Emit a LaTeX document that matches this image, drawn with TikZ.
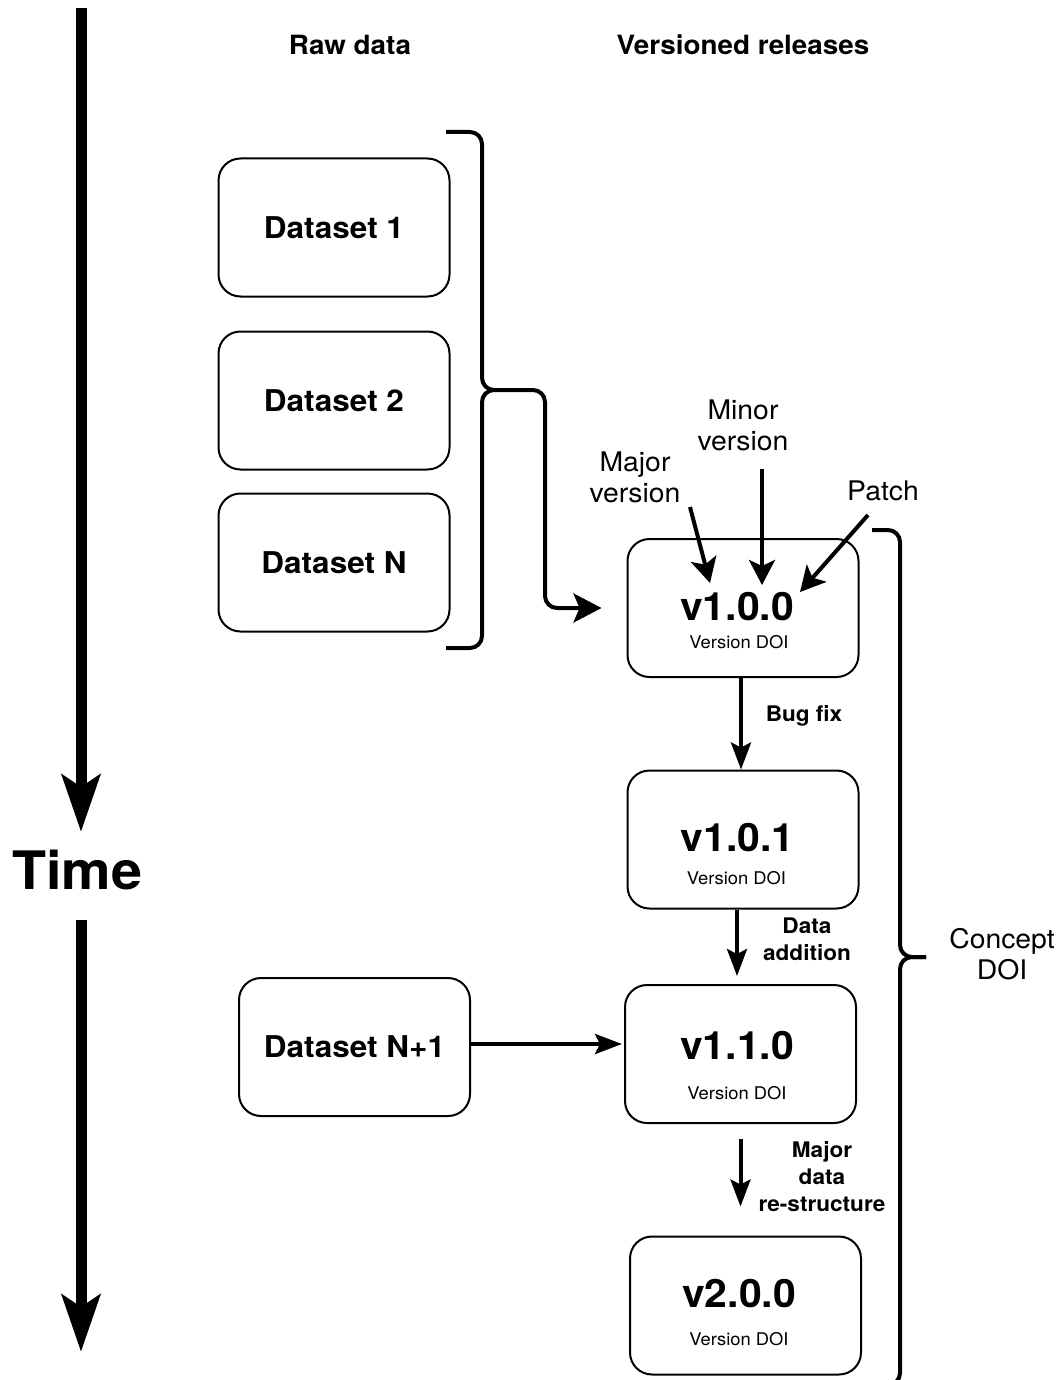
\documentclass[tikz,border=0pt]{standalone}
\usepackage{fontspec}
\setmainfont{TeX Gyre Heros}[FakeStretch=1.05]
\usetikzlibrary{arrows.meta}

\begin{document}
\begin{tikzpicture}[x=1pt,y=-1pt,
    caja/.style={draw,line width=2pt,rounded corners=22pt,minimum width=231pt,minimum height=138pt,inner sep=0pt},
    datos/.style={caja,font=\fontsize{30}{36}\selectfont\bfseries},
    titulo/.style={font=\fontsize{39}{47}\selectfont\bfseries,inner sep=0pt},
    doi/.style={font=\fontsize{17.5}{21}\selectfont,inner sep=0pt},
    etiqueta/.style={font=\fontsize{21.5}{27}\selectfont\bfseries,align=center,inner sep=0pt,anchor=north},
    nota/.style={font=\fontsize{27}{31}\selectfont,align=center,inner sep=0pt,anchor=north},
    flecha/.style={line width=4pt,-{Stealth[length=27pt,width=20pt,inset=5pt]}},
    flechita/.style={line width=4pt,-{Stealth[length=25pt,width=26pt,inset=6pt]}},
    llave/.style={line width=4pt,rounded corners=12pt}]
    \useasboundingbox (0,0) rectangle (1058,1380);

    %Eje del tiempo
    \node[font=\fontsize{53}{60}\selectfont\bfseries,inner sep=0pt,anchor=base] (tiempo) at (77,889) {Time};
    \coordinate (t0) at (81,8);
    \coordinate (t1) at (81,832);
    \coordinate (t2) at (81,920);
    \coordinate (t3) at (81,1352);
    \draw[line width=11pt,-{Stealth[length=57pt,width=38pt,inset=12pt]}] (t0) -- (t1);
    \draw[line width=11pt,-{Stealth[length=57pt,width=38pt,inset=12pt]}] (t2) -- (t3);

    %Encabezados
    \node[font=\fontsize{26.5}{30}\selectfont\bfseries,inner sep=0pt,anchor=base] (crudos) at (350,55) {Raw data};
    \node[font=\fontsize{26.5}{30}\selectfont\bfseries,inner sep=0pt,anchor=base] (versiones) at (743,55) {Versioned releases};

    %Conjuntos de datos
    \node[datos] (d1) at (334,227.5) {Dataset 1};
    \node[datos] (d2) at (334,400.5) {Dataset 2};
    \node[datos] (dN) at (334,562.5) {Dataset N};
    \node[datos] (dN1) at (354.5,1047) {Dataset N+1};

    %Llave de los datos crudos
    \coordinate (punta1) at (494,390);
    \draw[llave] (446,132) -- (482,132) -- (482,390) -- (punta1);
    \draw[llave] (punta1) -- (482,390) -- (482,648) -- (446,648);

    %Versiones
    \node[caja] (v100) at (743,608) {};
    \node[caja] (v101) at (743,839.5) {};
    \node[caja] (v110) at (740.5,1054) {};
    \node[caja] (v200) at (745.5,1305.5) {};

    \node[titulo] (t100) at (737,607) {v1.0.0};
    \node[doi] (doi100) at (739,642) {Version DOI};
    \node[titulo] (t101) at (737.5,837.5) {v1.0.1};
    \node[doi] (doi101) at (736.5,878) {Version DOI};
    \node[titulo] (t110) at (737,1046) {v1.1.0};
    \node[doi] (doi110) at (737,1093) {Version DOI};
    \node[titulo] (t200) at (739,1293.5) {v2.0.0};
    \node[doi] (doi200) at (739,1339) {Version DOI};

    %Llegada de los datos a la primera version
    \draw[line width=4pt,rounded corners=12pt,-{Stealth[length=28pt,width=29pt,inset=6pt]},shorten >=25pt]
        (punta1) -- (545,390) -- (545,608) -- (v100.west);

    %Partes del numero de version
    \node[nota] (mayor) at (635,452) {Major\\version};
    \node[nota] (menor) at (743,400) {Minor\\version};
    \node[nota] (parche) at (883,481) {Patch};
    \coordinate (mayorA) at (690,507);
    \coordinate (mayorB) at (710,583);
    \coordinate (menorA) at (762,469);
    \coordinate (menorB) at (762,585);
    \coordinate (parcheA) at (868,515);
    \coordinate (parcheB) at (800,592);
    \draw[flechita] (mayorA) -- (mayorB);
    \draw[flechita] (menorA) -- (menorB);
    \draw[flechita] (parcheA) -- (parcheB);

    %Cambios entre versiones
    \draw[flecha] ([xshift=-2pt]v100.south) -- ([xshift=-2pt]v101.north);
    \node[etiqueta,anchor=base] (bug) at (804,721) {Bug fix};
    \draw[flecha] ([xshift=-6pt]v101.south) -- ([xshift=-6pt,yshift=8pt]v101.south |- v110.north);
    \node[etiqueta] (adicion) at (807,918) {Data\\addition};
    \draw[flecha] ([yshift=-15pt]v110.south) -- ([yshift=29pt]v110.south |- v200.north);
    \node[etiqueta] (reestructura) at (822,1141) {Major\\data\\re-structure};

    %Nuevo conjunto de datos
    \draw[line width=4pt,-{Stealth[length=27pt,width=20pt,inset=5pt]},shorten >=2pt] (dN1.east |- 0,1044) -- (v110.west |- 0,1044);

    %Llave del DOI de concepto
    \coordinate (punta2) at (926,957);
    \draw[llave] (872,530) -- (900,530) -- (900,957) -- (punta2);
    \draw[llave] (punta2) -- (900,957) -- (900,1385) -- (872,1385);
    \node[nota] (concepto) at (1002,928) {Concept\\DOI};
\end{tikzpicture}
\end{document}
